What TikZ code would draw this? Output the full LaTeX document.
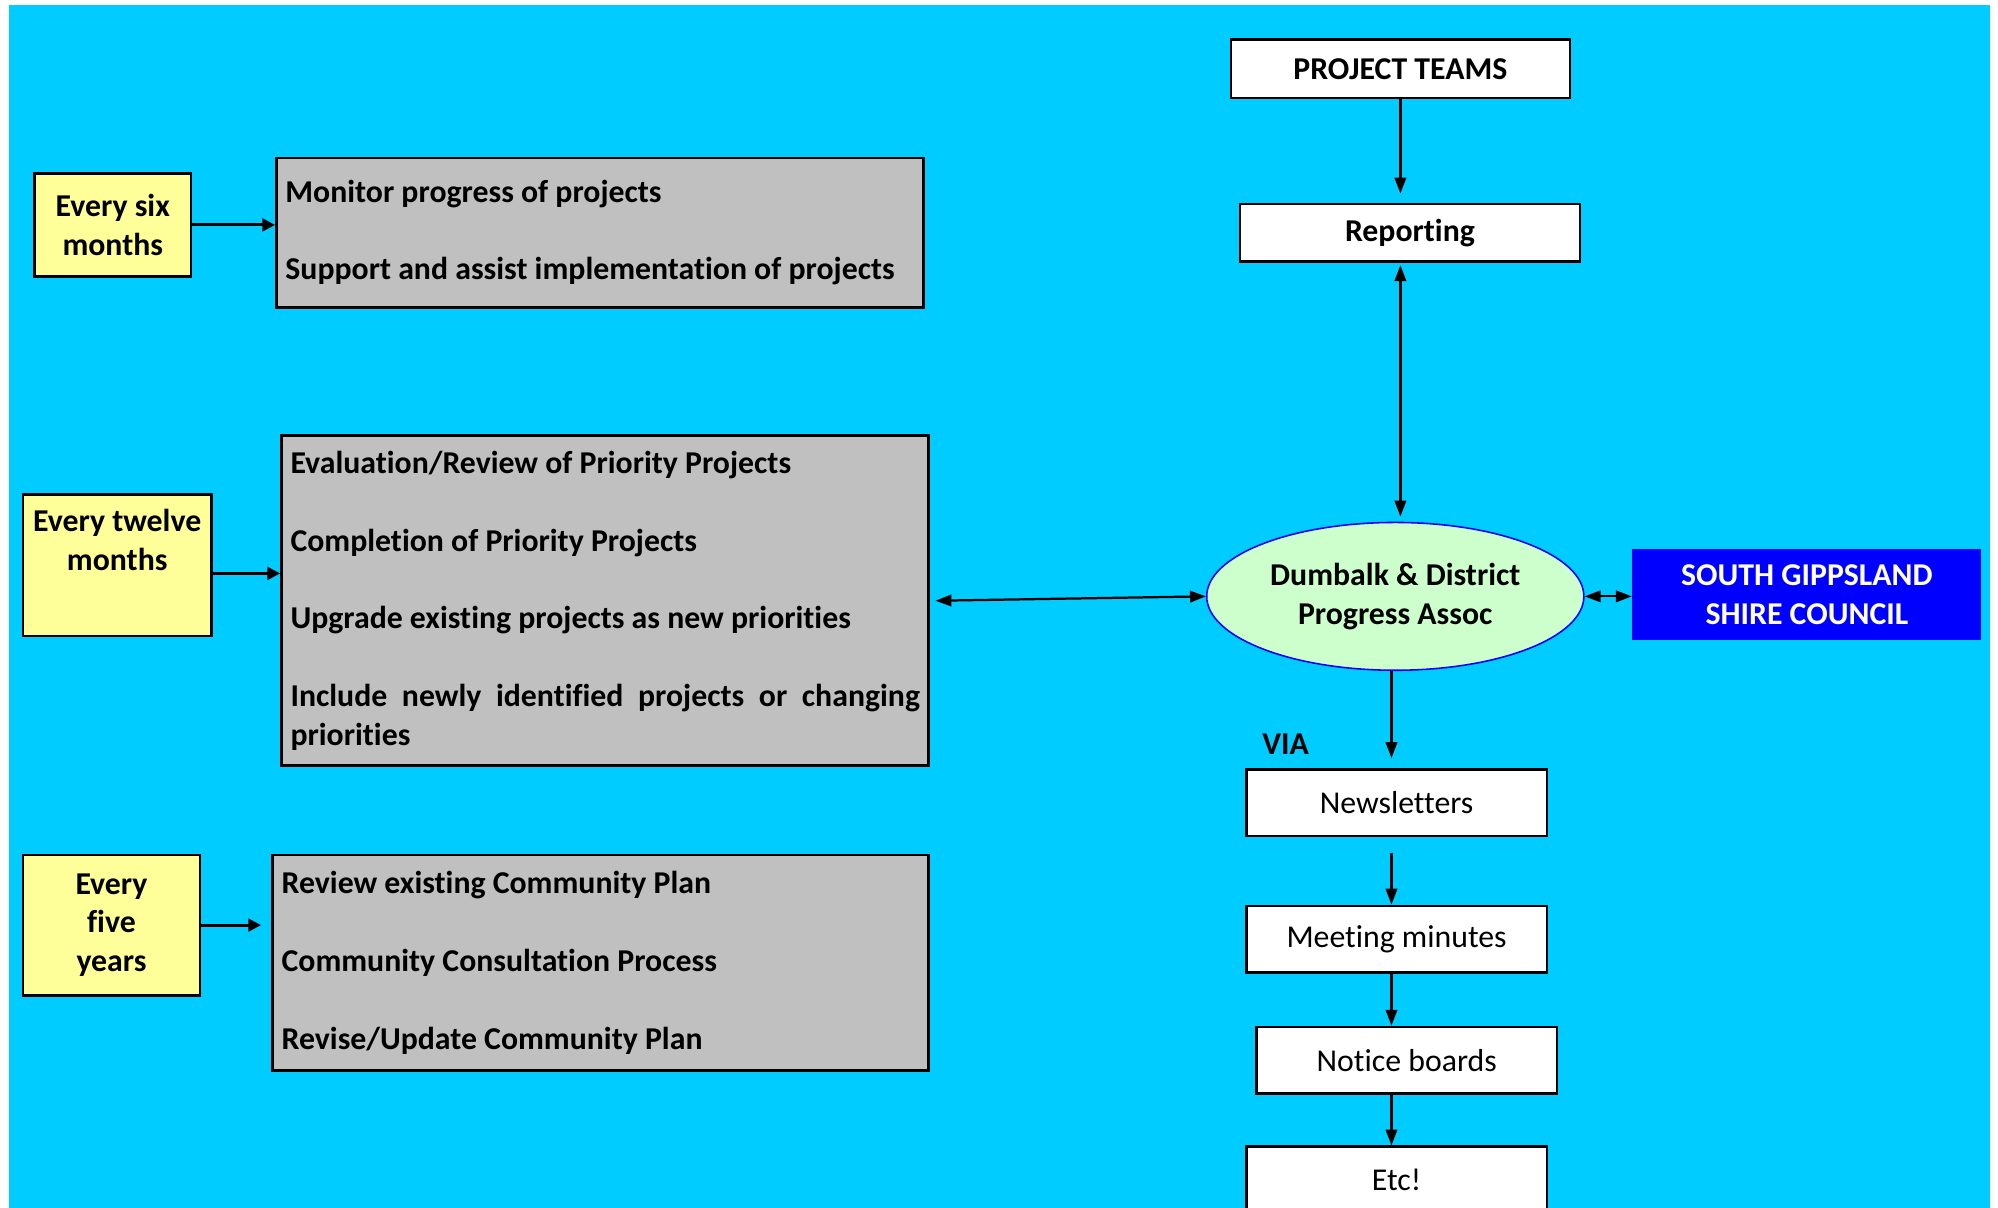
\documentclass[tikz,border=0pt]{standalone}
\usepackage{fontspec}
\setmainfont{Carlito}[Ligatures={NoCommon,NoContextual,NoRequired},Contextuals={NoAlternate}]
\usetikzlibrary{arrows.meta,shapes.geometric}
\definecolor{bgblue}{HTML}{00CCFF}
\definecolor{yel}{HTML}{FFFF99}
\definecolor{gry}{HTML}{C0C0C0}
\definecolor{grn}{HTML}{CCFFCC}
\definecolor{sgblue}{HTML}{0000FF}
\newcommand\pxu{0.02cm}
\newcommand\gapline{\\[17.36pt]}
\begin{document}
\begin{tikzpicture}[x=0.02cm,y=-0.02cm,
  txt/.style={font=\fontsize{14.2}{17.36}\selectfont\bfseries},
  ybox/.style={draw=black,line width=1.2pt,fill=yel,align=center,inner sep=0pt,txt},
  gbox/.style={draw=black,line width=1.3pt,fill=gry,align=justify,inner xsep=7*\pxu,inner ysep=0pt,txt,
     execute at begin node={\tolerance=10000\hyphenpenalty=10000\noindent}},
  wbox/.style={draw=black,line width=1.2pt,fill=white,inner sep=0pt,minimum width=236*\pxu,minimum height=52*\pxu,
     font=\fontsize{14.2}{17.36}\selectfont},
  arrL/.style={-{Triangle[length=0.2cm,width=0.2cm]},line width=1.3pt},
  arrR/.style={-{Triangle[length=0.25cm,width=0.18cm]},line width=1pt},
  dblR/.style={{Triangle[length=0.25cm,width=0.18cm]}-{Triangle[length=0.25cm,width=0.18cm]},line width=1pt},
]
\clip (0,0) rectangle (1568,948);
\fill[white] (0,0) rectangle (1568,948);
\fill[bgblue] (7,4) rectangle (1562,948);

% left column
\node[ybox,minimum width=123*\pxu,minimum height=81*\pxu] (six) at (88.5,176.5) {Every six\\months};
\node[gbox,text width=494*\pxu,minimum height=117*\pxu] (g1) at (471,182.5)
  {Monitor progress of projects\gapline Support and assist implementation of projects};

\node[ybox,minimum width=148*\pxu,minimum height=111*\pxu] (tw) at (92,443.5) {Every twelve\\months\\\strut};
\node[gbox,text width=494*\pxu,minimum height=259*\pxu] (g2) at (475,471.5)
  {Evaluation/Review of Priority Projects\gapline
   Completion of Priority Projects\gapline
   Upgrade existing projects as new priorities\gapline
   Include newly identified projects or changing\linebreak priorities};

\node[ybox,minimum width=139*\pxu,minimum height=110*\pxu] (five) at (87.5,726) {Every\\five\\years};
\node[gbox,text width=501*\pxu,minimum height=169*\pxu] (g3) at (471.5,755.5)
  {Review existing Community Plan\gapline
   Community Consultation Process\gapline
   Revise/Update Community Plan};

\draw[arrL] (six.east) -- (six.east -| g1.west);
\draw[arrL] ([yshift=-0.13cm]tw.east) -- ([yshift=-0.13cm]tw.east -| g2.west);
\draw[arrL,shorten >=8*\pxu] (five.east) -- (five.east -| g3.west);

% right column
\node[wbox,txt,minimum width=266*\pxu,minimum height=46*\pxu] (pt) at (1099,54) {PROJECT TEAMS};
\node[wbox,txt,minimum width=267*\pxu,minimum height=45*\pxu] (rep) at (1106.5,182.5) {Reporting};
\node[ellipse,draw=sgblue,line width=0.7pt,fill=grn,minimum width=296*\pxu,minimum height=116*\pxu,
      inner sep=0pt,align=center,txt] (ell) at (1095,468) {Dumbalk \& District\\Progress Assoc};
\node[fill=sgblue,text=white,minimum width=274*\pxu,minimum height=71*\pxu,inner sep=0pt,align=center,txt]
  (sg) at (1418,466.5) {SOUTH GIPPSLAND\\SHIRE COUNCIL};
\node[txt,inner sep=0pt] (via) at (1009,584) {VIA};
\node[wbox] (news) at (1096,630) {Newsletters};
\node[wbox] (meet) at (1096,737) {Meeting minutes};
\node[wbox] (notice) at (1104,832) {Notice boards};
\node[wbox] (etc) at (1096,926) {Etc!};

\draw[arrR,shorten >=7*\pxu] (pt.south) -- (pt.south |- rep.north);
\draw[dblR,shorten >=4*\pxu,shorten <=2*\pxu] (pt.south |- rep.south) -- (pt.south |- ell.north);
\draw[dblR,shorten <=4*\pxu] (g2.east) -- (ell.west);
\draw[dblR] (ell.east) -- (ell.east -| sg.west);
\draw[arrR,shorten >=8*\pxu] ([xshift=-0.06cm]ell.south) -- ([xshift=-0.06cm]ell.south |- news.north);
\draw[arrR,shorten <=12*\pxu] ([xshift=-0.08cm]news.south) -- ([xshift=-0.08cm]news.south |- meet.north);
\draw[arrR] ([xshift=-0.08cm]meet.south) -- ([xshift=-0.08cm]meet.south |- notice.north);
\draw[arrR] ([xshift=-0.08cm]etc.north |- notice.south) -- ([xshift=-0.08cm]etc.north);
\end{tikzpicture}
\end{document}
